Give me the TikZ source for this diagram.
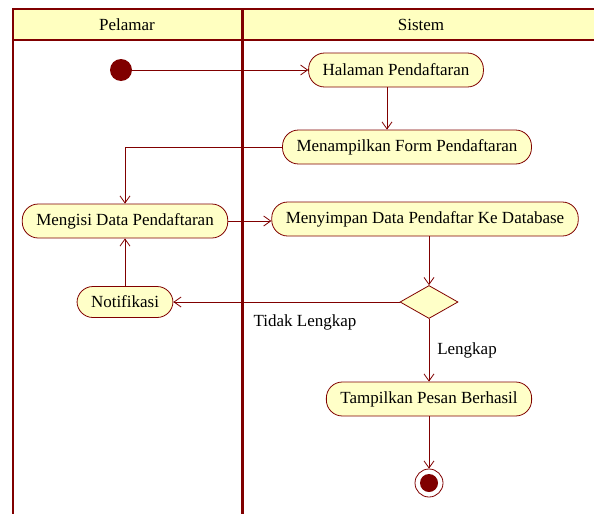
\documentclass[tikz,border=0pt]{standalone}
\usepackage{fontspec}
\setmainfont{Liberation Serif}
\usepackage{tikz}
\usetikzlibrary{shapes, arrows.meta, positioning, calc}

\definecolor{lanered}{RGB}{128, 0, 0}
\definecolor{actfill}{RGB}{255, 255, 200}
\definecolor{headfill}{RGB}{255, 255, 192}

\begin{document}
\begin{tikzpicture}[x=1pt, y=-1pt,
  font=\fontsize{17}{20}\selectfont,
  activity/.style={draw=lanered, fill=actfill, rounded corners=16pt, minimum height=34pt, inner xsep=14pt, line width=0.8pt},
  decision/.style={draw=lanered, fill=actfill, diamond, aspect=1.75, minimum width=58pt, minimum height=33pt, inner sep=0pt, line width=0.8pt},
  flow/.style={draw=lanered, line width=0.8pt, -{Straight Barb[length=7pt, width=10pt]}},
  lane/.style={draw=lanered, line width=1.8pt}]
  \useasboundingbox (0,0) rectangle (594,514);

  % Swimlanes
  \fill[white] (0,0) rectangle (594,514);
  \fill[headfill] (13,9) rectangle (594,40);
  \draw[lane] (594,9) -- (13,9) -- (13,514);
  \draw[lane] (13,40) -- (594,40);
  \draw[lanered, line width=3pt] (242,9) -- (242,514);
  \node (pelamar) at (127,25) {Pelamar};
  \node (sistem) at (421,25) {Sistem};

  % Activities
  \node[circle, fill=lanered, minimum size=22pt, inner sep=0pt] (start) at (121,70) {};
  \node[activity] (halaman) at (396,70) {Halaman Pendaftaran};
  \node[activity] (form) at (407,147) {Menampilkan Form Pendaftaran};
  \node[activity] (mengisi) at (125,221) {Mengisi Data Pendaftaran};
  \node[activity] (simpan) at (425,219) {Menyimpan Data Pendaftar Ke Database};
  \node[decision] (cek) at (429,302) {};
  \node[activity, minimum height=31pt] (notif) at (125,302) {Notifikasi};
  \node[activity] (berhasil) at (429,399) {Tampilkan Pesan Berhasil};
  \node[circle, draw=lanered, line width=0.8pt, minimum size=28pt, inner sep=0pt] (stop) at (429,483) {};
  \fill[lanered] (stop) circle (9pt);

  % Guards
  \node (tidak) at (305,322) {Tidak Lengkap};
  \node (lengkap) at (467,350) {Lengkap};

  % Flows
  \draw[flow] (start) -- (halaman);
  \draw[flow] ([xshift=-9pt]halaman.south) -- ([xshift=-20pt]form.north);
  \draw[flow] (form.west) -| (mengisi.north);
  \draw[flow] (mengisi.east) -- (mengisi.east -| simpan.west);
  \draw[flow] (simpan.south -| cek.north) -- (cek.north);
  \draw[flow] (cek) -- (notif);
  \draw[flow] (notif) -- (mengisi);
  \draw[flow] (cek) -- (berhasil);
  \draw[flow] (berhasil) -- (stop);
\end{tikzpicture}
\end{document}
